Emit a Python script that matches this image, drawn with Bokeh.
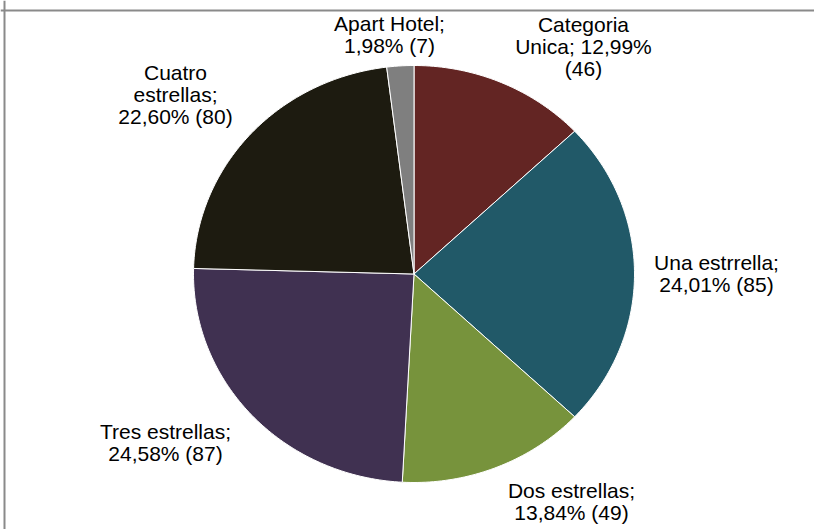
import math
from bokeh.plotting import figure
from bokeh.models import Range1d, Span, ColumnDataSource
from bokeh.core.properties import value
from bokeh.embed import file_html
from bokeh.resources import INLINE

# ---- data ----
categories = ["Categoria Unica", "Una estrrella", "Dos estrellas",
              "Tres estrellas", "Cuatro estrellas", "Apart Hotel"]
counts = [46, 85, 49, 87, 80, 7]
label_texts = ["Categoria\nUnica; 12,99%\n(46)",
               "Una estrrella;\n24,01% (85)",
               "Dos estrellas;\n13,84% (49)",
               "Tres estrellas;\n24,58% (87)",
               "Cuatro\nestrellas;\n22,60% (80)",
               "Apart Hotel;\n1,98% (7)"]
colors = ["#632523", "#215968", "#77933C", "#403151", "#1D1B10", "#7F7F7F"]

# ---- layout (page pixel coordinates) ----
W, H = 814, 529
cx, cy, rx, ry = 413.5, 273.5, 220.5, 208.5
label_x = [583, 716, 571, 165, 175, 389]
label_y = [46, 273, 501, 442, 94, 34]

p = figure(width=W, height=H, output_backend="svg", toolbar_location=None,
           x_range=Range1d(0, W), y_range=Range1d(H, 0),
           min_border=0, outline_line_color=None)
p.axis.visible = False
p.grid.visible = False
p.background_fill_color = "white"
p.border_fill_color = "white"

total = sum(counts)
xs, ys = [], []
start = 0.0
for c in counts:
    end = start + c / total
    n = max(4, int((end - start) * 360))
    px, py = [cx], [cy]
    for i in range(n + 1):
        a = 2 * math.pi * (start + (end - start) * i / n)
        px.append(cx + rx * math.sin(a))
        py.append(cy - ry * math.cos(a))
    xs.append(px)
    ys.append(py)
    start = end

src = ColumnDataSource(dict(xs=xs, ys=ys, color=colors, cat=categories))
p.patches("xs", "ys", source=src, fill_color="color", line_color="white",
          line_width=1)

lsrc = ColumnDataSource(dict(x=label_x, y=label_y, text=label_texts))
p.text("x", "y", text="text", source=lsrc, text_font=value("Liberation Sans"),
       text_font_size="21px", text_color="black", text_align="center",
       text_baseline="middle", text_line_height=0.96)

p.add_layout(Span(location=10, dimension="width", line_color="#8a8a8a", line_width=2))
p.add_layout(Span(location=4, dimension="height", line_color="#8a8a8a", line_width=2))

open("out.html", "w").write(file_html(p, INLINE))
